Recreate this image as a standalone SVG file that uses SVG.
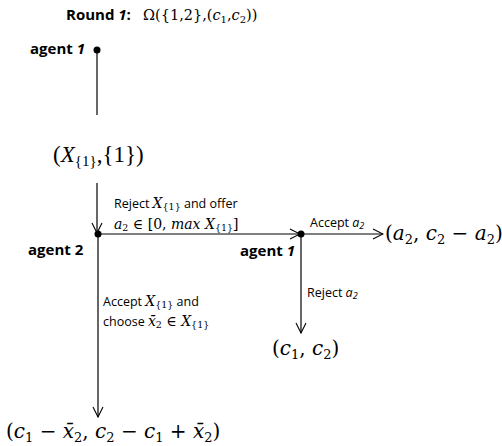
<svg xmlns="http://www.w3.org/2000/svg" width="502" height="446" viewBox="0 0 502 446">
<style>
.lbl{font-family:"Open Sans","Liberation Sans",sans-serif;font-size:12.5px;fill:#000}
.ag{font-family:"Open Sans","Liberation Sans",sans-serif;font-size:15px;font-weight:bold;fill:#000}
.m{font-family:"DejaVu Serif","Liberation Serif",serif;fill:#000}
.i{font-style:italic}
.big{font-family:"DejaVu Serif","Liberation Serif",serif;font-size:20px;fill:#000}
.ln{stroke:#000;stroke-width:1.2;fill:none}
</style>
<defs>
<marker id="ah" viewBox="0 0 12 12" refX="11" refY="6" markerWidth="12" markerHeight="12" markerUnits="userSpaceOnUse" orient="auto">
<path d="M1,1 L11,6 L1,11" fill="none" stroke="#000" stroke-width="1.1"/>
</marker>
</defs>
<g id="title">
<text x="66" y="20" class="ag" font-size="12.5px">Round <tspan font-style="italic">1</tspan>:</text>
<text x="143" y="20" class="m" font-size="14.5px">Ω({1,2},(<tspan class="i">c</tspan><tspan font-size="10px" dy="3">1</tspan><tspan dy="-3">,</tspan><tspan class="i">c</tspan><tspan font-size="10px" dy="3">2</tspan><tspan dy="-3">))</tspan></text>
</g>
<g id="connectors">
<line class="ln" x1="97" y1="50" x2="97" y2="115"/>
<line class="ln" x1="97" y1="183" x2="97" y2="233" marker-end="url(#ah)"/>
<line class="ln" x1="98" y1="234" x2="300" y2="234" marker-end="url(#ah)"/>
<line class="ln" x1="98" y1="234" x2="98" y2="417" marker-end="url(#ah)"/>
<line class="ln" x1="301" y1="234" x2="383" y2="234" marker-end="url(#ah)"/>
<line class="ln" x1="301" y1="234" x2="301" y2="333" marker-end="url(#ah)"/>
</g>
<g id="agent1">
<circle cx="97" cy="50" r="3.5" fill="#000"/>
<text x="30" y="54" class="ag">agent <tspan font-style="italic">1</tspan></text>
</g>
<g id="state">
<text x="53" y="162" font-family="'Liberation Serif','DejaVu Serif',serif" font-size="23px" fill="#000">(<tspan class="i">X</tspan><tspan font-size="15px" dy="4">{1}</tspan><tspan dy="-4">,{1})</tspan></text>
</g>
<g id="agent2">
<circle cx="98" cy="234" r="3.5" fill="#000"/>
<text x="28" y="255" class="ag">agent 2</text>
</g>
<g id="agent1b">
<circle cx="301" cy="234" r="3.5" fill="#000"/>
<text x="240" y="256" class="ag">agent <tspan font-style="italic">1</tspan></text>
</g>
<g id="labels">
<text x="114" y="208" class="lbl">Reject <tspan class="m i" font-size="14px">X</tspan><tspan class="m" font-size="9.5px" dy="2">{1}</tspan><tspan dy="-2">   and offer</tspan></text>
<text x="114" y="229" class="m" font-size="14px"><tspan class="i">a</tspan><tspan font-size="9.5px" dy="2">2</tspan><tspan dy="-2"> ∈ [0, </tspan><tspan class="i">max X</tspan><tspan font-size="9.5px" dy="2">{1}</tspan><tspan dy="-2">]</tspan></text>
<text x="310" y="227" class="lbl">Accept <tspan class="i">a</tspan><tspan font-size="9px" class="i" dy="2">2</tspan></text>
<text x="307" y="297" class="lbl">Reject <tspan class="i">a</tspan><tspan font-size="9px" class="i" dy="2">2</tspan></text>
<text x="103" y="306" class="lbl">Accept  <tspan class="m i" font-size="14px">X</tspan><tspan class="m" font-size="9.5px" dy="2">{1}</tspan><tspan dy="-2">  and</tspan></text>
<text x="103" y="326" class="lbl">choose  <tspan class="m i" font-size="14px">x̄</tspan><tspan class="m" font-size="9.5px" dy="2">2</tspan><tspan class="m" font-size="14px" dy="-2"> ∈ </tspan><tspan class="m i" font-size="14px">X</tspan><tspan class="m" font-size="9.5px" dy="2">{1}</tspan></text>
</g>
<g id="outcome-accept">
<text x="385" y="240" class="big">(<tspan class="i">a</tspan><tspan font-size="13px" dy="4">2</tspan><tspan dy="-4">, </tspan><tspan class="i">c</tspan><tspan font-size="13px" dy="4">2</tspan><tspan dy="-4"> − </tspan><tspan class="i">a</tspan><tspan font-size="13px" dy="4">2</tspan><tspan dy="-4">)</tspan></text>
</g>
<g id="outcome-reject">
<text x="272" y="355" class="big">(<tspan class="i">c</tspan><tspan font-size="13px" dy="4">1</tspan><tspan dy="-4">, </tspan><tspan class="i">c</tspan><tspan font-size="13px" dy="4">2</tspan><tspan dy="-4">)</tspan></text>
</g>
<g id="outcome-choose">
<text x="6" y="438" class="big">(<tspan class="i">c</tspan><tspan font-size="13px" dy="4">1</tspan><tspan dy="-4"> − </tspan><tspan class="i">x̄</tspan><tspan font-size="13px" dy="4">2</tspan><tspan dy="-4">, </tspan><tspan class="i">c</tspan><tspan font-size="13px" dy="4">2</tspan><tspan dy="-4"> − </tspan><tspan class="i">c</tspan><tspan font-size="13px" dy="4">1</tspan><tspan dy="-4"> + </tspan><tspan class="i">x̄</tspan><tspan font-size="13px" dy="4">2</tspan><tspan dy="-4">)</tspan></text>
</g>
</svg>
